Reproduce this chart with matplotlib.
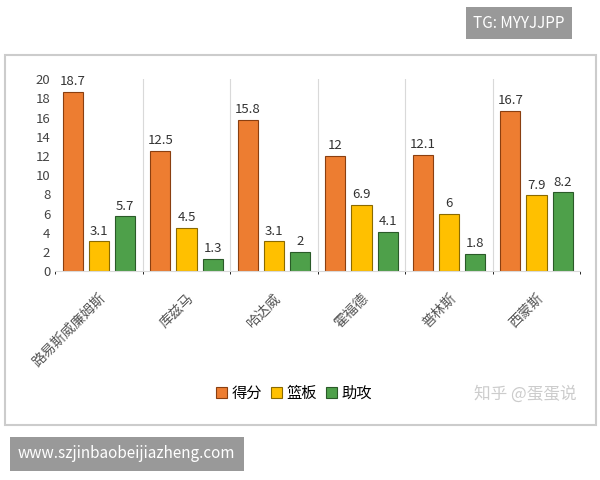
import matplotlib
matplotlib.use("Agg")
import matplotlib.pyplot as plt
import numpy as np
from matplotlib.patches import Rectangle

plt.rcParams['font.family'] = ['Noto Sans CJK SC', 'DejaVu Sans']

players = ["路易斯威廉姆斯", "库兹马", "哈达威", "霍福德", "普林斯", "西蒙斯"]
points = [18.7, 12.5, 15.8, 12, 12.1, 16.7]
rebounds = [3.1, 4.5, 3.1, 6.9, 6, 7.9]
assists = [5.7, 1.3, 2, 4.1, 1.8, 8.2]
series_names = ["得分", "篮板", "助攻"]
colors = ["#ED7D31", "#FFC000", "#4EA04A"]
edges = ["#8a3f10", "#8a6a00", "#2a5a28"]

fig = plt.figure(figsize=(6, 4.8), dpi=100)
fig.patches.append(Rectangle((0.008, 0.115), 0.985, 0.77, transform=fig.transFigure,
                             fill=False, edgecolor="#cccccc", lw=1.5))
ax = fig.add_axes([0.092, 0.435, 0.875, 0.4])
x = np.arange(len(players))
w = 0.23
for i, (vals, c, e) in enumerate(zip([points, rebounds, assists], colors, edges)):
    bars = ax.bar(x + (i - 1) * w * 1.3, vals, w, color=c, edgecolor=e, lw=0.8, label=series_names[i])
    for b, v in zip(bars, vals):
        ax.text(b.get_x() + b.get_width() / 2, v + 0.4, f"{v:g}", ha="center", va="bottom", fontsize=9.5, color="#333333")
ax.set_ylim(0, 20)
ax.set_yticks(range(0, 21, 2))
ax.set_xlim(-0.5, 5.5)
ax.set_xticks(x)
ax.set_xticklabels(players, rotation=45, ha="right", rotation_mode="anchor", fontsize=10, color="#555555")
ax.tick_params(axis="y", labelsize=9.5, colors="#444444", length=0)
ax.tick_params(axis="x", length=0, pad=14)
ax.grid(axis="x", color="#d9d9d9", lw=0.8)
ax.set_xticks(np.arange(-0.5, 6, 1), minor=True)
ax.grid(False)
for xv in np.arange(0.5, 5.5, 1):
    ax.axvline(xv, color="#d9d9d9", lw=0.8)
for s in ["top", "right", "left"]:
    ax.spines[s].set_visible(False)
ax.spines["bottom"].set_color("#d9d9d9")
fig.legend(loc="center", bbox_to_anchor=(0.49, 0.18), ncol=3, frameon=False, fontsize=11,
           handlelength=0.7, handletextpad=0.3, columnspacing=0.6)
fig.text(0.875, 0.18, "知乎 @蛋蛋说", ha="center", va="center", fontsize=12, color="#cccccc")
fig.text(0.865, 0.952, "TG: MYYJJPP", ha="center", va="center", fontsize=11, color="white",
         bbox=dict(boxstyle="square,pad=0.5", fc="#999999", ec="none"))
fig.text(0.03, 0.055, "www.szjinbaobeijiazheng.com", ha="left", va="center", fontsize=11, color="white",
         bbox=dict(boxstyle="square,pad=0.55", fc="#999999", ec="none"))
fig.savefig("out.png", dpi=100)
